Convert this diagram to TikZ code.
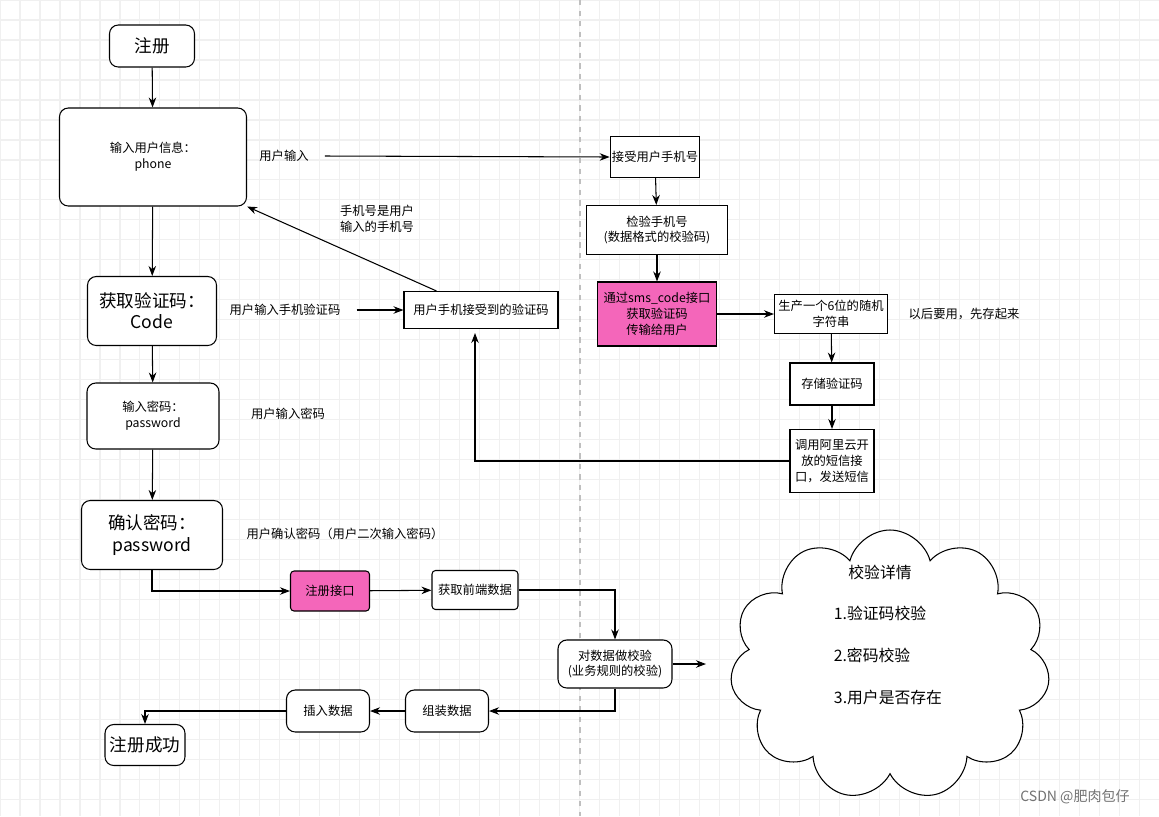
\documentclass[tikz,border=0pt]{standalone}
\usepackage{fontspec}
\setmainfont{Noto Sans CJK SC}
\usetikzlibrary{shapes.symbols,arrows.meta}
\begin{document}
\begin{tikzpicture}[x=0.02cm,y=-0.02cm,>=Stealth,line width=0.6pt]
\useasboundingbox (0,0) rectangle (1159,816);
\fill[white] (0,0) rectangle (1159,816);
\draw[black!6,step=0.4cm] (0,0) grid (1159,816);
\draw[black!25,dashed] (580,0) -- (580,816);
\tikzstyle{box}=[rectangle,draw,fill=white,rounded corners=5pt,align=center,font=\fontsize{7}{9}\selectfont,inner sep=1pt]
\tikzstyle{plain}=[rectangle,draw,fill=white,align=center,font=\fontsize{7}{9}\selectfont,inner sep=1pt]
\tikzstyle{pink}=[plain,fill=magenta!60]
\tikzstyle{note}=[align=center,font=\fontsize{7}{9}\selectfont]
\tikzstyle{big}=[font=\fontsize{10}{12}\selectfont]
% left column
\node[box,big,minimum width=85*0.02cm,minimum height=42*0.02cm] (reg) at (152,46) {注册};
\node[box,minimum width=187*0.02cm,minimum height=98*0.02cm] (info) at (153,157) {输入用户信息：\\phone};
\node[box,big,minimum width=129*0.02cm,minimum height=69*0.02cm] (code) at (152,311) {获取验证码：\\Code};
\node[box,minimum width=132*0.02cm,minimum height=66*0.02cm] (pwd) at (153,416) {输入密码：\\password};
\node[box,big,minimum width=141*0.02cm,minimum height=69*0.02cm] (confirm) at (152,535) {确认密码：\\password};
\node[pink,rounded corners=2pt,minimum width=79*0.02cm,minimum height=40*0.02cm] (api) at (330,591) {注册接口};
\node[plain,rounded corners=2pt,minimum width=86*0.02cm,minimum height=39*0.02cm] (fetch) at (475,590) {获取前端数据};
\node[box,minimum width=114*0.02cm,minimum height=48*0.02cm] (valid) at (615,664) {对数据做校验\\(业务规则的校验)};
\node[box,minimum width=83*0.02cm,minimum height=42*0.02cm] (pack) at (447,711) {组装数据};
\node[box,minimum width=83*0.02cm,minimum height=42*0.02cm] (insert) at (328,711) {插入数据};
\node[box,big,minimum width=80*0.02cm,minimum height=41*0.02cm] (done) at (145,745) {注册成功};
\node[plain,minimum width=154*0.02cm,minimum height=37*0.02cm] (phone) at (481,310) {用户手机接受到的验证码};
% right column
\node[plain,minimum width=87*0.02cm,minimum height=41*0.02cm] (recv) at (655,157) {接受用户手机号};
\node[plain,minimum width=141*0.02cm,minimum height=49*0.02cm] (check) at (657,230) {检验手机号\\(数据格式的校验码)};
\node[pink,minimum width=119*0.02cm,minimum height=64*0.02cm] (sms) at (657,314) {通过sms\_code接口\\获取验证码\\传输给用户};
\node[plain,minimum width=113*0.02cm,minimum height=39*0.02cm] (gen) at (831,314) {生产一个6位的随机\\字符串};
\node[plain,minimum width=84*0.02cm,minimum height=42*0.02cm] (store) at (832,384) {存储验证码};
\node[plain,minimum width=84*0.02cm,minimum height=63*0.02cm] (ali) at (832,461) {调用阿里云开\\放的短信接\\口，发送短信};
\node[cloud,draw,fill=white,cloud puffs=11,aspect=1.15,minimum width=320*0.02cm,minimum height=270*0.02cm] (cloud) at (890,665) {};
\node[align=left,font=\fontsize{9}{11}\selectfont] (detail) at (880,572) {校验详情};
\node[align=left,font=\fontsize{9}{11}\selectfont] (c1) at (880,613) {1.验证码校验};
\node[align=left,font=\fontsize{9}{11}\selectfont] (c2) at (872,655) {2.密码校验};
\node[align=left,font=\fontsize{9}{11}\selectfont] (c3) at (888,697) {3.用户是否存在};
\coordinate (cin) at (706,664);
% labels
\node[note] (l1) at (284,156) {用户输入};
\node[note] (l2) at (377,219) {手机号是用户\\输入的手机号};
\node[note] (l3) at (285,310) {用户输入手机验证码};
\node[note] (l4) at (288,414) {用户输入密码};
\node[note] (l5) at (345,534) {用户确认密码（用户二次输入密码）};
\node[note] (l6) at (964,314) {以后要用，先存起来};
\node[font=\fontsize{8}{10}\selectfont,text=black!55] (mark) at (1075,797) {CSDN @肥肉包仔};
% connectors
\draw[->] (reg) -- (info);
\draw[->] (info) -- (code);
\draw[->] (code) -- (pwd);
\draw[->] (pwd) -- (confirm);
\draw[->] (confirm.south) |- (api.west);
\draw[->] (api) -- (fetch);
\draw[->] (fetch.east) -| (valid.north);
\draw[->] (valid.south) |- (pack.east);
\draw[->] (pack) -- (insert);
\draw[->] (insert.west) -| (done.north);
\draw[->] (valid.east) -- (cin);
\draw[->] (l1.east) ++(10,0) -- (recv.west);
\draw[->] (recv) -- (check);
\draw[->] (check) -- (sms);
\draw[->] (sms) -- (gen);
\draw[->] (gen) -- (store);
\draw[->] (store) -- (ali);
\draw[->] (ali.west) -| (475,333);
\draw[->] (phone.north west) ++(33,0) -- (info.south east);
\draw[->] (l3.east) ++(10,0) -- (phone.west);
\end{tikzpicture}
\end{document}
